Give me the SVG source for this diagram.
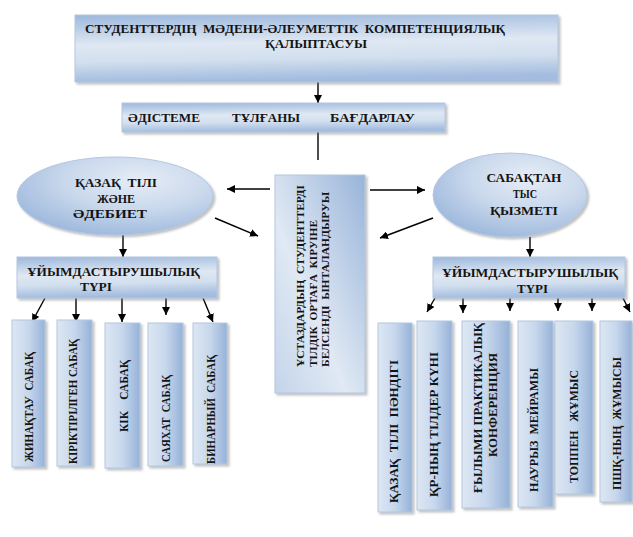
<svg xmlns="http://www.w3.org/2000/svg" width="633" height="537" viewBox="0 0 633 537">
<defs>
<linearGradient id="gH" x1="0" y1="0" x2="0.12" y2="1">
<stop offset="0" stop-color="#9db8dc"/>
<stop offset="0.45" stop-color="#dfe8f3"/>
<stop offset="0.7" stop-color="#d2dfee"/>
<stop offset="1" stop-color="#a3bcdf"/>
</linearGradient>
<linearGradient id="gV" x1="0" y1="0" x2="1" y2="0">
<stop offset="0" stop-color="#dde7f3"/>
<stop offset="0.5" stop-color="#c7d7ec"/>
<stop offset="1" stop-color="#96b2d8"/>
</linearGradient>
<linearGradient id="gC" x1="0" y1="1" x2="1" y2="0">
<stop offset="0" stop-color="#c4d4ea"/>
<stop offset="0.4" stop-color="#e0e9f4"/>
<stop offset="1" stop-color="#98b4d9"/>
</linearGradient>
<radialGradient id="gE" cx="0.62" cy="0.3" r="0.75">
<stop offset="0" stop-color="#e6edf6"/>
<stop offset="0.5" stop-color="#c9d8ec"/>
<stop offset="1" stop-color="#9cb7dc"/>
</radialGradient>
<filter id="sh" x="-10%" y="-10%" width="130%" height="130%">
<feDropShadow dx="2" dy="2" stdDeviation="1.2" flood-color="#777" flood-opacity="0.45"/>
</filter>
<marker id="ar" viewBox="0 0 10 10" refX="10" refY="5" markerWidth="8" markerHeight="8" markerUnits="userSpaceOnUse" orient="auto">
<path d="M0,0 L10,5 L0,10 Z" fill="#000"/>
</marker>
</defs>
<style>
.bx{stroke:#b3c7e2;stroke-width:1;filter:url(#sh)}
.t{font-family:"Liberation Serif","Times New Roman",serif;font-weight:bold;fill:#141414;white-space:pre}
.h{font-size:13px}
.o{font-size:12px}
.s{font-size:13px}
.c{font-size:11px}
.ln{stroke:#000;stroke-width:1.4;fill:none}
.la{stroke:#000;stroke-width:1.4;fill:none;marker-end:url(#ar)}
</style>
<rect width="633" height="537" fill="#fff"/>

<g id="connectors">
<line class="la" x1="318" y1="82" x2="318" y2="103"/>
<line class="ln" x1="318" y1="132" x2="318" y2="160"/>
<line class="la" x1="270" y1="189" x2="227" y2="189"/>
<line class="la" x1="215" y1="218" x2="258" y2="236"/>
<line class="la" x1="370" y1="190" x2="425" y2="190"/>
<line class="la" x1="433" y1="218" x2="380" y2="238"/>
<line class="la" x1="123" y1="235" x2="123" y2="257"/>
<line class="la" x1="530" y1="237" x2="530" y2="257"/>
<line class="la" x1="45" y1="298" x2="32" y2="322"/>
<line class="la" x1="76" y1="298" x2="76" y2="322"/>
<line class="la" x1="122" y1="298" x2="122" y2="322"/>
<line class="la" x1="166" y1="298" x2="166" y2="315"/>
<line class="la" x1="203" y1="298" x2="213" y2="322"/>
<line class="la" x1="435" y1="298" x2="427" y2="312"/>
<line class="la" x1="463" y1="298" x2="463" y2="313"/>
<line class="la" x1="510" y1="298" x2="510" y2="311"/>
<line class="la" x1="558" y1="298" x2="558" y2="311"/>
<line class="la" x1="592" y1="298" x2="592" y2="311"/>
<line class="la" x1="623" y1="298" x2="630" y2="312"/>
</g>

<g id="title">
<rect class="bx" x="75" y="15" width="483" height="67" fill="url(#gH)"/>
<text class="t h" x="85" y="33" textLength="420" lengthAdjust="spacingAndGlyphs">СТУДЕНТТЕРДІҢ  МӘДЕНИ-ӘЛЕУМЕТТІК  КОМПЕТЕНЦИЯЛЫҚ</text>
<text class="t h" x="265" y="48" textLength="102" lengthAdjust="spacingAndGlyphs">ҚАЛЫПТАСУЫ</text>
</g>

<g id="method">
<rect class="bx" x="122" y="103" width="323" height="29" fill="url(#gH)"/>
<text class="t h" x="128" y="122" textLength="72" lengthAdjust="spacingAndGlyphs">ӘДІСТЕМЕ</text>
<text class="t h" x="232" y="122" textLength="68" lengthAdjust="spacingAndGlyphs">ТҰЛҒАНЫ</text>
<text class="t h" x="330" y="122" textLength="85" lengthAdjust="spacingAndGlyphs">БАҒДАРЛАУ</text>
</g>

<g id="center">
<rect class="bx" x="275" y="175" width="90" height="218" fill="url(#gC)"/>
<text class="t c" transform="translate(304,367) rotate(-90)" textLength="182" lengthAdjust="spacingAndGlyphs">ҰСТАЗДАРДЫҢ  СТУДЕНТТЕРДІ</text>
<text class="t c" transform="translate(317,367) rotate(-90)" textLength="147" lengthAdjust="spacingAndGlyphs">ТІЛДІК  ОРТАҒА  КІРУІНЕ</text>
<text class="t c" transform="translate(329,367) rotate(-90)" textLength="175" lengthAdjust="spacingAndGlyphs">БЕЛСЕНДІ  ЫНТАЛАНДЫРУЫ</text>
</g>

<g id="ell-left">
<ellipse cx="115" cy="196" rx="98" ry="39" fill="url(#gE)" stroke="#b3c7e2" filter="url(#sh)"/>
<text class="t h" x="116" y="187" text-anchor="middle" textLength="82" lengthAdjust="spacingAndGlyphs">ҚАЗАҚ  ТІЛІ</text>
<text class="t h" x="116" y="203" text-anchor="middle" textLength="38" lengthAdjust="spacingAndGlyphs">ЖӘНЕ</text>
<text class="t h" x="110" y="218" text-anchor="middle" textLength="74" lengthAdjust="spacingAndGlyphs">ӘДЕБИЕТ</text>
</g>

<g id="ell-right">
<ellipse cx="510" cy="195" rx="77" ry="42" fill="url(#gE)" stroke="#b3c7e2" filter="url(#sh)"/>
<text class="t h" x="524" y="182" text-anchor="middle" textLength="75" lengthAdjust="spacingAndGlyphs">САБАҚТАН</text>
<text class="t h" x="525" y="198" text-anchor="middle" textLength="24" lengthAdjust="spacingAndGlyphs">ТЫС</text>
<text class="t h" x="524" y="215" text-anchor="middle" textLength="68" lengthAdjust="spacingAndGlyphs">ҚЫЗМЕТІ</text>
</g>

<g id="org-left">
<rect class="bx" x="17" y="257" width="200" height="41" fill="url(#gH)"/>
<text class="t o" x="27" y="276" textLength="173" lengthAdjust="spacingAndGlyphs">ҰЙЫМДАСТЫРУШЫЛЫҚ</text>
<text class="t o" x="80" y="291" textLength="32" lengthAdjust="spacingAndGlyphs">ТҮРІ</text>
</g>

<g id="org-right">
<rect class="bx" x="433" y="257" width="192" height="41" fill="url(#gH)"/>
<text class="t o" x="442" y="277" textLength="176" lengthAdjust="spacingAndGlyphs">ҰЙЫМДАСТЫРУШЫЛЫҚ</text>
<text class="t o" x="517" y="293" textLength="31" lengthAdjust="spacingAndGlyphs">ТҮРІ</text>
</g>

<g id="l1">
<rect class="bx" x="12" y="320" width="33" height="147" fill="url(#gV)"/>
<text class="t s" transform="translate(33,462) rotate(-90)" textLength="110" lengthAdjust="spacingAndGlyphs">ЖИНАҚТАУ  САБАҚ</text>
</g>
<g id="l2">
<rect class="bx" x="57" y="320" width="35" height="146" fill="url(#gV)"/>
<text class="t s" transform="translate(77,464) rotate(-90)" textLength="125" lengthAdjust="spacingAndGlyphs">КІРІКТІРІЛГЕН САБАҚ</text>
</g>
<g id="l3">
<rect class="bx" x="105" y="323" width="35" height="145" fill="url(#gV)"/>
<text class="t s" transform="translate(128,432) rotate(-90)" textLength="72" lengthAdjust="spacingAndGlyphs">КІК    САБАҚ</text>
</g>
<g id="l4">
<rect class="bx" x="148" y="323" width="35" height="143" fill="url(#gV)"/>
<text class="t s" transform="translate(170,462) rotate(-90)" textLength="87" lengthAdjust="spacingAndGlyphs">САЯХАТ  САБАҚ</text>
</g>
<g id="l5">
<rect class="bx" x="193" y="323" width="34" height="141" fill="url(#gV)"/>
<text class="t s" transform="translate(215,464) rotate(-90)" textLength="109" lengthAdjust="spacingAndGlyphs">БИНАРНЫЙ  САБАҚ</text>
</g>

<g id="r1">
<rect class="bx" x="378" y="323" width="34" height="189" fill="url(#gV)"/>
<text class="t s" transform="translate(398,503) rotate(-90)" textLength="143" lengthAdjust="spacingAndGlyphs">ҚАЗАҚ  ТІЛІ  ПӘНДІГІ</text>
</g>
<g id="r2">
<rect class="bx" x="417" y="321" width="35" height="189" fill="url(#gV)"/>
<text class="t s" transform="translate(438,497) rotate(-90)" textLength="145" lengthAdjust="spacingAndGlyphs">ҚР-НЫҢ ТІЛДЕР КҮНІ</text>
</g>
<g id="r3">
<rect class="bx" x="462" y="321" width="48" height="187" fill="url(#gV)"/>
<text class="t s" transform="translate(482,493) rotate(-90)" textLength="170" lengthAdjust="spacingAndGlyphs">ҒЫЛЫМИ ПРАКТИКАЛЫҚ</text>
<text class="t s" transform="translate(497,457) rotate(-90)" textLength="104" lengthAdjust="spacingAndGlyphs">КОНФЕРЕНЦИЯ</text>
</g>
<g id="r4">
<rect class="bx" x="518" y="321" width="35" height="186" fill="url(#gV)"/>
<text class="t s" transform="translate(538,492) rotate(-90)" textLength="124" lengthAdjust="spacingAndGlyphs">НАУРЫЗ  МЕЙРАМЫ</text>
</g>
<g id="r5">
<rect class="bx" x="555" y="321" width="38" height="173" fill="url(#gV)"/>
<text class="t s" transform="translate(578,483) rotate(-90)" textLength="113" lengthAdjust="spacingAndGlyphs">ТОППЕН   ЖҰМЫС</text>
</g>
<g id="r6">
<rect class="bx" x="600" y="321" width="32" height="181" fill="url(#gV)"/>
<text class="t s" transform="translate(621,490) rotate(-90)" textLength="133" lengthAdjust="spacingAndGlyphs">ПШҚ-НЫҢ  ЖҰМЫСЫ</text>
</g>
</svg>
